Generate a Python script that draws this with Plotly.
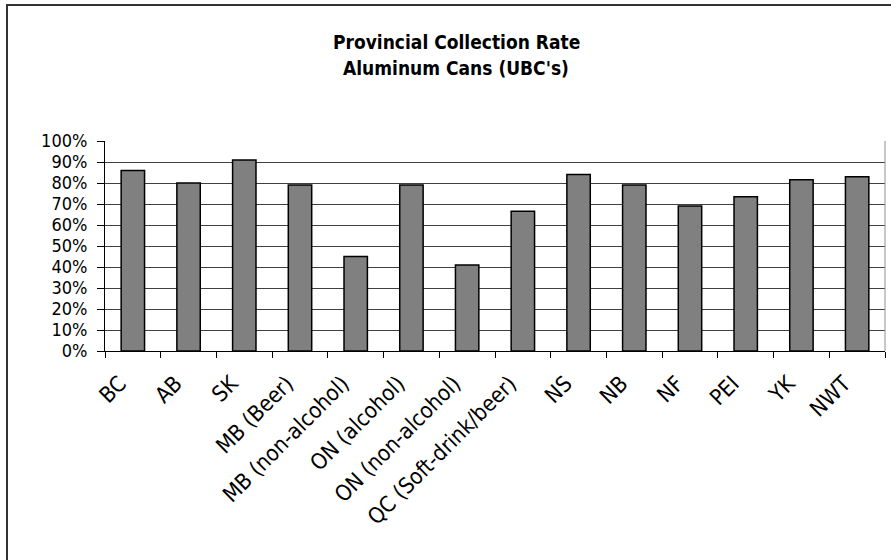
import plotly.graph_objects as go

categories = ["BC", "AB", "SK", "MB (Beer)", "MB (non-alcohol)", "ON (alcohol)",
              "ON (non-alcohol)", "QC (Soft-drink/beer)", "NS", "NB", "NF", "PEI", "YK", "NWT"]
rates = [0.86, 0.80, 0.91, 0.79, 0.45, 0.79, 0.41, 0.665, 0.84, 0.79, 0.69, 0.735, 0.815, 0.83]
y_ticks = [i / 10 for i in range(11)]
y_tick_labels = [f"{i*10}%" for i in range(11)]
title_lines = ["Provincial Collection Rate", "Aluminum Cans (UBC's)"]

W, H = 891, 560
L, R, T, B = 105, 6, 141, 209
pw, ph = W - L - R, H - T - B
FONT = "Liberation Sans Narrow, DejaVu Sans Condensed, Open Sans, sans-serif"

fig = go.Figure(go.Bar(
    x=categories, y=rates,
    marker=dict(color="#808080", line=dict(color="#000000", width=1.5)),
))

def px_x(p):
    return (p - L) / pw

def px_y(p):
    return (H - B - p) / ph

shapes = [
    dict(type="rect", xref="paper", yref="paper",
         x0=px_x(7), x1=px_x(W + 20), y0=px_y(5), y1=px_y(H + 20),
         line=dict(color="#333333", width=2), fillcolor="rgba(0,0,0,0)", layer="below"),
    dict(type="line", xref="paper", yref="paper", x0=1, x1=1, y0=0, y1=1,
         line=dict(color="#909090", width=1)),
]

annotations = [
    dict(text=f"<b>{t}</b>", xref="paper", yref="paper",
         x=px_x(456), y=px_y(yy), xanchor="center", yanchor="middle",
         showarrow=False, font=dict(size=19, family=FONT, color="#000000"))
    for t, yy in zip(title_lines, [42, 68])
]

fig.update_layout(
    width=W, height=H,
    margin=dict(l=L, r=R, t=T, b=B, pad=0),
    paper_bgcolor="white", plot_bgcolor="white",
    font=dict(family=FONT, color="#000000", size=18),
    bargap=0.58,
    showlegend=False,
    shapes=shapes,
    annotations=annotations,
)

fig.update_xaxes(
    type="category",
    tickangle=-45,
    ticks="outside", tickson="boundaries", ticklen=6, tickcolor="#000000",
    showline=True, linecolor="#000000", linewidth=1,
    showgrid=False,
    tickfont=dict(size=22),
    ticklabelstandoff=10, ticklabelshift=-13,
)
fig.update_yaxes(
    range=[0, 1.0],
    tickvals=y_ticks, ticktext=y_tick_labels,
    ticks="outside", ticklen=7, tickcolor="#000000",
    showline=True, linecolor="#000000", linewidth=1,
    showgrid=True, gridcolor="#404040", gridwidth=1,
    zeroline=False,
    tickfont=dict(size=18),
    ticklabelstandoff=6,
)

# remove the default 8px page margin so the figure sits at the window origin
fig.write_html("out.html", config={"displayModeBar": False},
               post_script="document.body.style.margin='0';")
